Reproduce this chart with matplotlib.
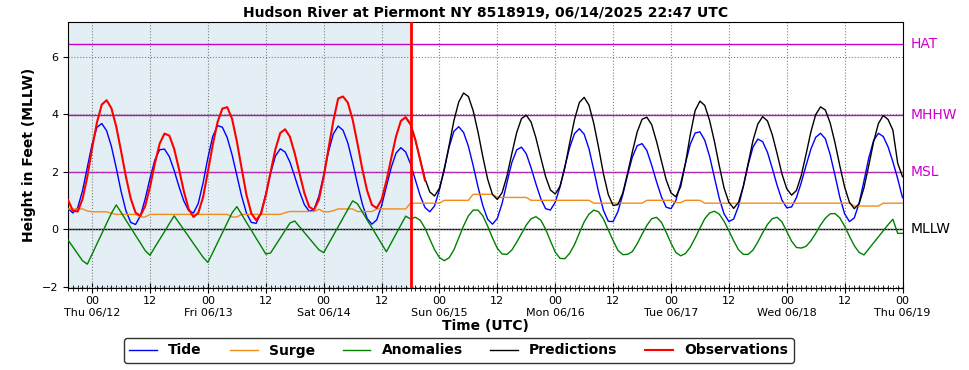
import numpy as np
import pandas as pd
import matplotlib
matplotlib.use("Agg")
import matplotlib.pyplot as plt
import matplotlib.dates as mdates
from matplotlib.ticker import FuncFormatter

# hourly series (UTC)
START = "2025-06-11 19:00"
END = "2025-06-19 00:00"
OBS_START = "2025-06-11 19:00"
PRED_START = "2025-06-14 17:00"
NOW = "2025-06-14 18:00"

tide = [
    0.73, 0.57, 0.75, 1.34, 2.16, 2.97, 3.55, 3.68, 3.43, 2.88, 2.13, 1.32, 0.65, 0.24,
    0.17, 0.47, 1.06, 1.78, 2.41, 2.77, 2.79, 2.53, 2.05, 1.49, 0.99, 0.65,
    0.57, 0.90, 1.62, 2.49, 3.23, 3.61, 3.55, 3.19, 2.60, 1.87, 1.15, 0.56, 0.24,
    0.21, 0.57, 1.23, 1.96, 2.55, 2.80, 2.69, 2.34, 1.84, 1.31, 0.86, 0.63,
    0.69, 1.15, 1.89, 2.70, 3.32, 3.59, 3.45, 3.01, 2.33, 1.58, 0.89, 0.38, 0.18,
    0.33, 0.82, 1.48, 2.15, 2.65, 2.84, 2.69, 2.28, 1.73, 1.17, 0.76, 0.61,
    0.82, 1.38, 2.12, 2.86, 3.41, 3.57, 3.37, 2.89, 2.21, 1.47, 0.82, 0.35, 0.18,
    0.38, 0.91, 1.63, 2.32, 2.76, 2.86, 2.63, 2.14, 1.58, 1.07, 0.72,
    0.67, 0.94, 1.48, 2.19, 2.84, 3.33, 3.50, 3.31, 2.80, 2.06, 1.29, 0.66, 0.28,
    0.27, 0.62, 1.20, 1.89, 2.52, 2.91, 2.98, 2.74, 2.23, 1.66, 1.14, 0.77,
    0.72, 1.00, 1.60, 2.30, 2.96, 3.35, 3.39, 3.10, 2.54, 1.81, 1.08, 0.54, 0.27,
    0.36, 0.81, 1.50, 2.25, 2.86, 3.14, 3.05, 2.68, 2.12, 1.53, 1.02, 0.75,
    0.78, 1.10, 1.62, 2.22, 2.79, 3.20, 3.34, 3.15, 2.60, 1.88, 1.12, 0.54, 0.27,
    0.40, 0.91, 1.68, 2.48, 3.09, 3.34, 3.23, 2.87, 2.35, 1.76, 1.10,
]

surge = [
    0.71, 0.71, 0.71, 0.71, 0.64, 0.61, 0.61, 0.61, 0.61, 0.56,
    0.52, 0.52, 0.52, 0.52, 0.52, 0.43, 0.43,
    0.52, 0.52, 0.52, 0.52, 0.52, 0.52, 0.52, 0.52, 0.52, 0.52, 0.52, 0.52, 0.52,
    0.52, 0.52, 0.52, 0.52, 0.43, 0.43,
    0.52, 0.52, 0.52, 0.52, 0.52, 0.52, 0.52, 0.52, 0.52, 0.58,
    0.62, 0.62, 0.62, 0.62, 0.62, 0.62, 0.70, 0.61, 0.61, 0.65,
    0.71, 0.71, 0.71, 0.71, 0.62, 0.62, 0.62, 0.62,
    0.71, 0.71, 0.71, 0.71, 0.71, 0.71, 0.71,
    0.91, 0.91, 0.91, 0.91, 0.91, 0.91, 0.91,
    1.01, 1.01, 1.01, 1.01, 1.01, 1.01,
    1.22, 1.22, 1.22, 1.22, 1.22,
    1.11, 1.11, 1.11, 1.11, 1.11, 1.11, 1.11,
    1.01, 1.01, 1.01, 1.01, 1.01, 1.01, 1.01, 1.01, 1.01, 1.01, 1.01, 1.01, 1.01,
    0.91, 0.91, 0.91, 0.91, 0.91, 0.91, 0.91, 0.91, 0.91, 0.91, 0.91,
    1.01, 1.01, 1.01, 1.01, 1.01, 1.01, 0.93, 0.93, 1.01, 1.01, 1.01, 1.01,
    0.91, 0.91, 0.91, 0.91, 0.91, 0.91, 0.91, 0.91, 0.91, 0.91,
    0.91, 0.91, 0.91, 0.91, 0.91, 0.91, 0.91, 0.91, 0.91, 0.91,
    0.91, 0.91, 0.91, 0.91, 0.91, 0.91, 0.91, 0.91, 0.91, 0.91, 0.91,
    0.81, 0.81, 0.81, 0.81, 0.81, 0.81, 0.91, 0.91, 0.91, 0.91, 0.91,
]

anomalies = [
    -0.37, -0.61, -0.85, -1.09, -1.21, -0.86, -0.50, -0.15, 0.21, 0.56,
    0.85, 0.59, 0.32, 0.06, -0.21, -0.47, -0.74,
    -0.90, -0.62, -0.35, -0.08, 0.20, 0.47,
    0.23, -0.01, -0.25, -0.49, -0.73, -0.97,
    -1.15, -0.81, -0.46, -0.12, 0.23, 0.57,
    0.79, 0.52, 0.24, -0.03, -0.31, -0.58, -0.86,
    -0.82, -0.56, -0.30, -0.04, 0.22,
    0.29, 0.09, -0.11, -0.31, -0.51, -0.71,
    -0.81, -0.51, -0.21, 0.09, 0.39, 0.69, 0.99,
    0.89, 0.61, 0.33, 0.06, -0.22, -0.50, -0.78,
    -0.47, -0.16, 0.15, 0.46, 0.36, 0.42,
    0.32, 0.04, -0.34, -0.71, -0.98, -1.09,
    -0.99, -0.71, -0.30, 0.12, 0.47, 0.67,
    0.67, 0.47, 0.11, -0.30, -0.66, -0.86,
    -0.87, -0.72, -0.45, -0.15, 0.15, 0.37, 0.44,
    0.32, 0.01, -0.40, -0.79, -1.01,
    -1.02, -0.83, -0.53, -0.13, 0.26, 0.53, 0.67,
    0.61, 0.36, -0.02, -0.39, -0.73, -0.88, -0.87,
    -0.77, -0.50, -0.17, 0.14, 0.37, 0.42,
    0.25, -0.10, -0.48, -0.80, -0.92,
    -0.84, -0.62, -0.30, 0.04, 0.37, 0.57, 0.63,
    0.53, 0.28, -0.05, -0.40, -0.71, -0.87,
    -0.87, -0.72, -0.44, -0.12, 0.17, 0.37, 0.42,
    0.26, -0.07, -0.41, -0.63, -0.65,
    -0.59, -0.40, -0.14, 0.15, 0.39, 0.54,
    0.55, 0.40, 0.11, -0.24, -0.57, -0.80, -0.89,
    -0.68, -0.47, -0.26, -0.05, 0.16, 0.35, -0.14, -0.14,
]

observations = [
    1.02, 0.65, 0.62, 1.05, 1.83, 2.83, 3.72, 4.34, 4.49, 4.21, 3.57, 2.72, 1.83, 1.07, 0.58,
    0.47, 0.81, 1.48, 2.29, 2.98, 3.33, 3.26, 2.80, 2.10, 1.33, 0.71, 0.43,
    0.57, 1.12, 2.01, 2.94, 3.73, 4.20, 4.25, 3.85, 3.06, 2.11, 1.19, 0.56, 0.32,
    0.54, 1.18, 2.00, 2.79, 3.35, 3.48, 3.22, 2.64, 1.94, 1.26, 0.78,
    0.68, 1.03, 1.82, 2.81, 3.77, 4.55, 4.62, 4.41, 3.82, 2.99, 2.10, 1.35, 0.85,
    0.74, 1.03, 1.68, 2.47, 3.23, 3.77, 3.90, 3.66, 3.12, 2.42, 1.70,
]

predictions = [
    3.88, 3.65, 3.11, 2.42, 1.76, 1.30,
    1.16, 1.43, 2.06, 2.92, 3.78, 4.43, 4.74, 4.62, 4.12, 3.38, 2.52, 1.74, 1.21, 1.04,
    1.28, 1.86, 2.63, 3.36, 3.85, 3.97, 3.73, 3.18, 2.50, 1.84, 1.37, 1.23,
    1.50, 2.14, 3.01, 3.82, 4.41, 4.59, 4.32, 3.68, 2.84, 1.93, 1.21, 0.83,
    0.86, 1.26, 1.95, 2.70, 3.39, 3.83, 3.90, 3.64, 3.06, 2.39, 1.72, 1.27, 1.13,
    1.48, 2.30, 3.29, 4.13, 4.46, 4.31, 3.79, 3.06, 2.22, 1.44, 0.94, 0.73,
    0.94, 1.50, 2.29, 3.09, 3.66, 3.92, 3.77, 3.29, 2.63, 1.93, 1.41, 1.19,
    1.35, 1.87, 2.61, 3.39, 3.99, 4.26, 4.15, 3.70, 3.01, 2.21, 1.47, 0.94, 0.72,
    0.89, 1.44, 2.22, 3.04, 3.68, 3.96, 3.82, 3.45, 2.30, 1.83,
]

datum_names = ["HAT", "MHHW", "MSL", "MLLW"]
datum_values = [6.43, 3.97, 1.98, 0.0]

t_all = pd.date_range(START, periods=len(tide), freq="h")
t_obs = pd.date_range(OBS_START, periods=len(observations), freq="h")
t_pred = pd.date_range(PRED_START, periods=len(predictions), freq="h")
now = pd.Timestamp(NOW)

fig = plt.figure(figsize=(9.69, 3.70), dpi=100)
ax = fig.add_axes([0.0702, 0.2208, 0.8612, 0.7189])

x0 = pd.Timestamp(START)
x1 = pd.Timestamp(END)
ax.axvspan(x0, now, color="#e3eef5", zorder=0, lw=0)

for name, val in zip(datum_names, datum_values):
    c = "black" if name == "MLLW" else "#cc00cc"
    ax.axhline(val, color=c, lw=1, zorder=1)
    ax.text(1.01, val, name, color=c, fontsize=10, va="center", ha="left",
            transform=ax.get_yaxis_transform())

ax.plot(t_all, tide, color="blue", lw=1, label="Tide", zorder=3)
ax.plot(t_all, surge, color="#f28c1a", lw=1, label="Surge", zorder=3)
ax.plot(t_all, anomalies, color="green", lw=1, label="Anomalies", zorder=3)
ax.plot(t_pred, predictions, color="black", lw=1, label="Predictions", zorder=3)
ax.plot(t_obs, observations, color="red", lw=1.5, label="Observations", zorder=4)
ax.axvline(now, color="red", lw=2, zorder=5)

ax.set_xlim(x0, x1)
ax.set_ylim(-2.05, 7.2)
ax.set_yticks([-2, 0, 2, 4, 6])

ax.xaxis.set_major_locator(mdates.HourLocator(byhour=[0, 12]))
ax.xaxis.set_minor_locator(mdates.HourLocator())


def fmt(x, pos):
    d = mdates.num2date(x)
    if d.hour == 0:
        return d.strftime("00\n%a %m/%d")
    return d.strftime("%H")


ax.xaxis.set_major_formatter(FuncFormatter(fmt))
ax.tick_params(axis="x", which="major", direction="inout", length=7, labelsize=8, pad=2)
ax.tick_params(axis="x", which="minor", direction="inout", length=4)
ax.tick_params(axis="y", labelsize=8)
ax.grid(True, which="major", color="gray", linestyle=":", lw=0.8)

ax.set_title("Hudson River at Piermont NY 8518919, 06/14/2025 22:47 UTC",
             fontsize=10, fontweight="bold", pad=4)
ax.set_ylabel("Height in Feet (MLLW)", fontsize=10, fontweight="bold")
ax.set_xlabel("Time (UTC)", fontsize=10, fontweight="bold", labelpad=1)

leg = fig.legend(loc="lower center", ncol=5, bbox_to_anchor=(0.4735, 0.0),
                 prop={"weight": "bold", "size": 10}, frameon=True,
                 edgecolor="black", fancybox=True, handlelength=2, columnspacing=2.0)

fig.savefig("out.png", dpi=100)
